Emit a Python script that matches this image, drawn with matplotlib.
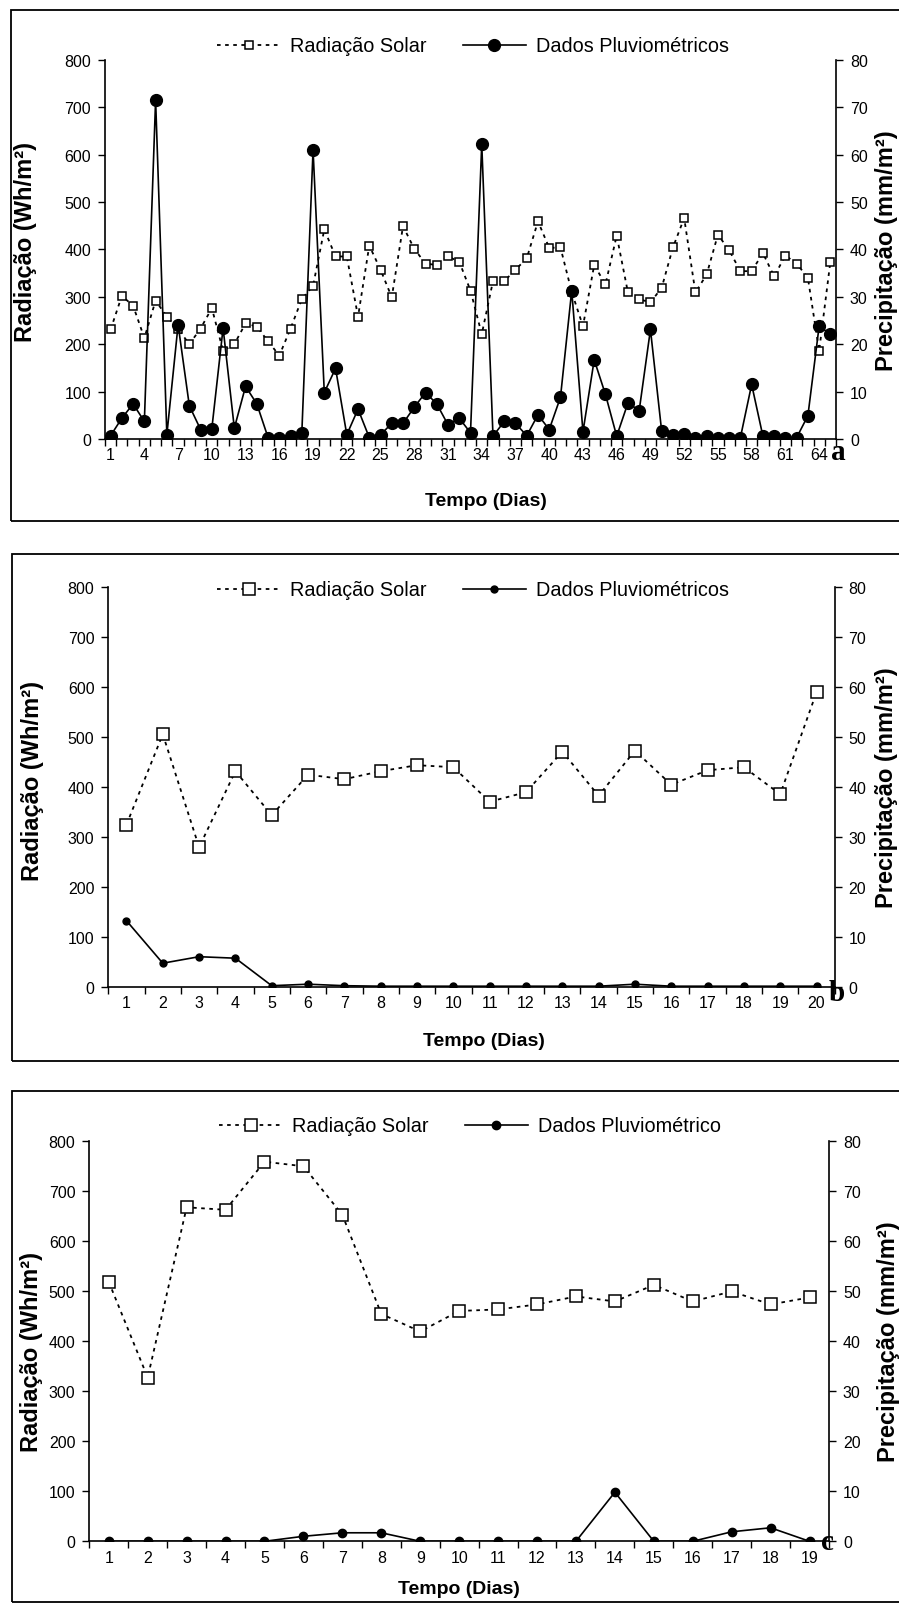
import matplotlib
matplotlib.use("Agg")
import matplotlib.pyplot as plt
from matplotlib.patches import Rectangle
import numpy as np

plt.rcParams['font.family'] = ['Liberation Sans', 'DejaVu Sans']

# ---- painel a : 65 dias
rad_a = [231, 302, 281, 213, 292, 258, 232, 200, 233, 276, 186, 200, 244, 237, 206,
         176, 233, 295, 323, 442, 385, 385, 258, 408, 357, 299, 449, 401, 370, 367,
         385, 374, 313, 221, 333, 333, 357, 381, 459, 403, 404, 310, 238, 367, 326,
         429, 309, 295, 288, 319, 404, 466, 309, 347, 431, 398, 354, 354, 392, 343,
         387, 370, 340, 186, 374]
chuva_a = [0.7, 4.4, 7.4, 3.7, 71.5, 0.9, 24.1, 7.0, 2.0, 2.2, 23.4, 2.3, 11.1, 7.4, 0.3,
           0.3, 0.6, 1.2, 61.0, 9.8, 14.9, 0.9, 6.3, 0.3, 0.9, 3.3, 3.3, 6.7, 9.8, 7.4,
           3.0, 4.4, 1.3, 62.2, 0.6, 3.7, 3.3, 0.7, 5.1, 2.0, 8.8, 31.3, 1.5, 16.7, 9.4,
           0.6, 7.6, 6.0, 23.1, 1.6, 0.8, 1.1, 0.3, 0.6, 0.3, 0.3, 0.3, 11.5, 0.6, 0.6,
           0.3, 0.3, 4.9, 23.8, 22.1]

# ---- painel b : 20 dias
rad_b = [324, 505, 279, 431, 343, 424, 415, 431, 443, 439, 370, 389, 470, 382, 472,
         404, 433, 439, 385, 589]
chuva_b = [13.2, 4.7, 6.0, 5.7, 0.2, 0.5, 0.2, 0.1, 0.1, 0.1, 0.1, 0.1, 0.1, 0.1, 0.5,
           0.1, 0.1, 0.1, 0.1, 0.1]

# ---- painel c : 19 dias
rad_c = [518, 327, 667, 662, 758, 749, 652, 454, 419, 460, 463, 473, 489, 479, 512,
         479, 499, 473, 487]
chuva_c = [0, 0, 0, 0, 0, 1.0, 1.7, 1.7, 0, 0, 0, 0, 0, 9.8, 0, 0, 1.9, 2.7, 0]

W, H = 899, 1606
fig = plt.figure(figsize=(W / 100, H / 100), dpi=100)
fig.patch.set_facecolor('white')


def box(l, t, r, b):
    # pixels (topo-esquerda) -> fracao da figura
    return [l / W, 1 - b / H, (r - l) / W, (b - t) / H]


def fx(x):
    return x / W


def fy(y):
    return 1 - y / H


def painel(rad, chuva, ax_px, frame_px, step, ms_q, ms_c, nome_chuva, leg_xy,
           ylab_x, ylab_y, ylab_r_x, xlab_xy, letra, letra_xy):
    # moldura
    l, t, r, b = frame_px
    fig.patches.append(Rectangle((fx(l), fy(b)), fx(r - l), (b - t) / H,
                                 transform=fig.transFigure, fill=False,
                                 edgecolor='black', linewidth=1.3))

    dias = np.arange(1, len(rad) + 1)
    ax = fig.add_axes(box(*ax_px))
    ax2 = ax.twinx()

    l1, = ax.plot(dias, rad, color='black', linestyle=(0, (2, 2.5)), linewidth=1.3,
                  marker='s', markersize=ms_q, markerfacecolor='white',
                  markeredgecolor='black', markeredgewidth=1.1, label='Radiação Solar')
    l2, = ax2.plot(dias, chuva, color='black', linewidth=1.2, marker='o',
                   markersize=ms_c, markerfacecolor='black', markeredgecolor='black',
                   label=nome_chuva)

    ax.set_xlim(0.5, len(rad) + 0.5)
    ax.set_ylim(0, 800)
    ax2.set_ylim(0, 80)
    ax.set_yticks(np.arange(0, 801, 100))
    ax2.set_yticks(np.arange(0, 81, 10))

    # marcas entre categorias, rotulos no centro
    ax.set_xticks(np.arange(0.5, len(rad) + 1), labels=[])
    ax.set_xticks(dias[::step], labels=[str(d) for d in dias[::step]], minor=True)
    ax.tick_params(axis='x', which='major', direction='out', length=5, width=1)
    ax.tick_params(axis='x', which='minor', length=0, pad=6, labelsize=11.5)
    ax.tick_params(axis='y', direction='out', length=5, width=1, pad=5, labelsize=11.5)
    ax2.tick_params(axis='y', direction='out', length=5, width=1, pad=5, labelsize=11.5)

    for a in (ax, ax2):
        a.spines['top'].set_visible(False)
        for s in ('left', 'right', 'bottom'):
            a.spines[s].set_linewidth(1.2)
    ax.spines['right'].set_visible(False)
    ax2.spines['left'].set_visible(False)
    ax2.spines['bottom'].set_visible(False)

    fig.legend([l1, l2], ['Radiação Solar', nome_chuva], loc='center',
               bbox_to_anchor=(fx(leg_xy[0]), fy(leg_xy[1])), ncol=2, frameon=False,
               fontsize=14.3, handlelength=3.2, handletextpad=0.5, columnspacing=1.8)

    fig.text(fx(ylab_x), fy(ylab_y), 'Radiação (Wh/m²)', rotation=90, ha='center',
             va='center', fontsize=17, fontweight='bold')
    fig.text(fx(ylab_r_x), fy((ax_px[1] + ax_px[3]) / 2), 'Precipitação (mm/m²)',
             rotation=90, ha='center', va='center', fontsize=17, fontweight='bold')
    fig.text(fx(xlab_xy[0]), fy(xlab_xy[1]), 'Tempo (Dias)', ha='center', va='center',
             fontsize=14, fontweight='bold')
    fig.text(fx(letra_xy[0]), fy(letra_xy[1]), letra, ha='center', va='center',
             fontsize=21, fontweight='bold', family='Liberation Serif')


painel(rad_a, chuva_a, (105, 60.7, 836, 440), (11, 11, 915, 522), 3, 6, 8.5,
       'Dados Pluviométricos', (473, 47), 26, 242, 887, (486, 502), 'a', (838, 452))
painel(rad_b, chuva_b, (108.3, 587.7, 834.7, 987.7), (11.7, 555, 915, 1062), 1, 8, 5,
       'Dados Pluviométricos', (473, 591), 33, 781, 886, (484, 1042), 'b', (837, 994))
painel(rad_c, chuva_c, (89.3, 1141.7, 829, 1542.3), (11.7, 1091.5, 915, 1603), 1, 9, 6,
       'Dados Pluviométrico', (470, 1127), 32, 1352, 889, (459, 1590), 'c', (827, 1543))

fig.savefig('out.png', dpi=100, facecolor='white')
